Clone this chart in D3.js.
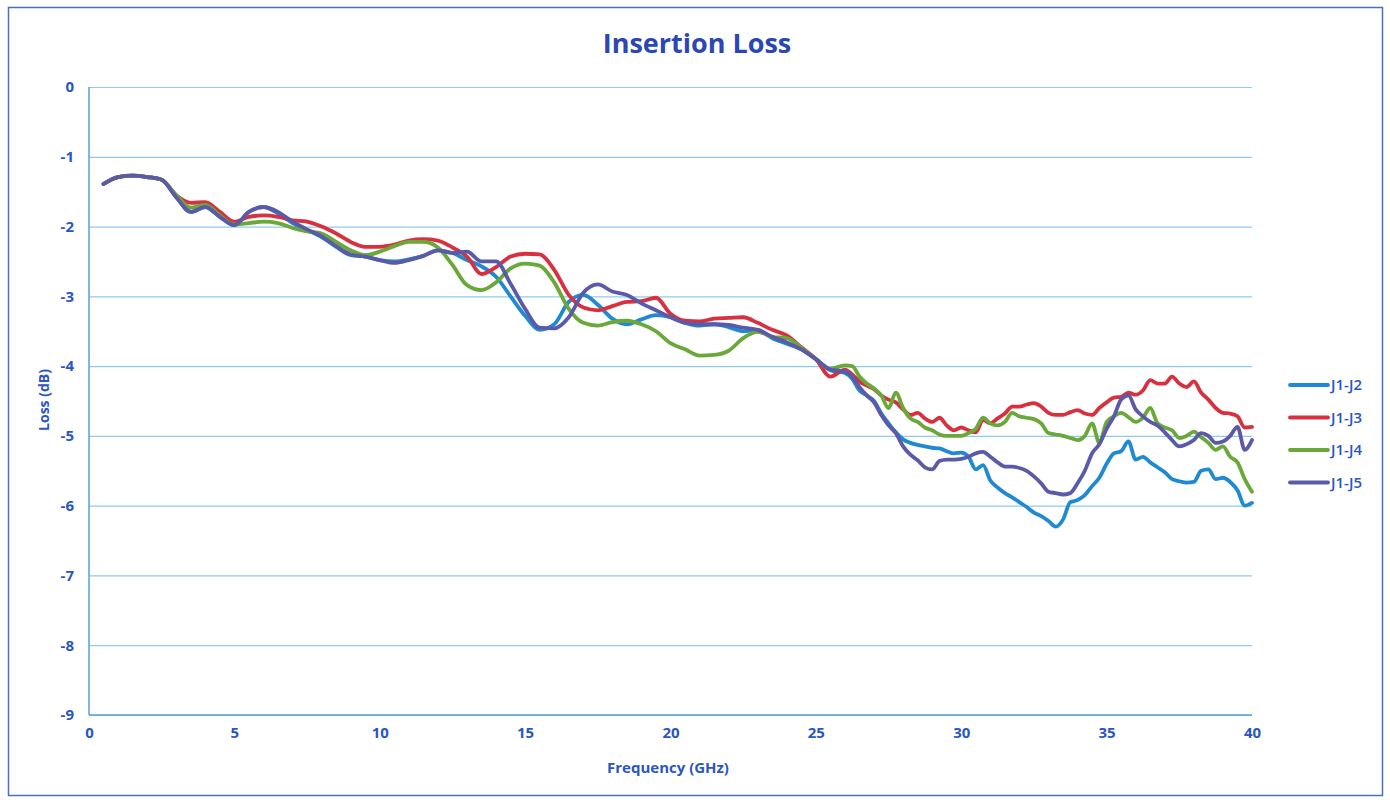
<!DOCTYPE html>
<html>
<head>
<meta charset="utf-8">
<script src="https://d3js.org/d3.v7.min.js"></script>
<style>
  body { margin: 0; background: #fff; }
  text { font-family: "Open Sans", "Noto Sans", sans-serif; }
</style>
</head>
<body>
<div id="chart"></div>
<script>
// frequency points (GHz)
const freq = [0.5,1,1.5,2,2.5,3,3.5,4,4.5,5,5.5,6,6.5,7,7.5,8,8.5,9,9.5,10,
  10.5,11,11.5,12,12.5,13,13.5,14,14.5,15,15.5,16,16.5,17,17.5,18,18.5,19,19.5,20,
  20.5,21,21.5,22,22.5,23,23.5,24,24.5,25,25.5,26,
  26.25,26.5,26.75,27,27.25,27.5,27.75,28,28.25,28.5,28.75,29,29.25,29.5,29.75,30,
  30.25,30.5,30.75,31,31.25,31.5,31.75,32,32.25,32.5,32.75,33,33.25,33.5,33.75,34,
  34.25,34.5,34.75,35,35.25,35.5,35.75,36,36.25,36.5,36.75,37,37.25,37.5,37.75,38,
  38.25,38.5,38.75,39,39.25,39.5,39.75,40];

const j12 = [-1.39,-1.29,-1.27,-1.29,-1.33,-1.58,-1.79,-1.72,-1.86,-1.98,-1.79,-1.72,-1.81,-1.95,-2.05,-2.15,-2.29,-2.41,-2.43,-2.48,
  -2.5,-2.47,-2.42,-2.34,-2.38,-2.48,-2.57,-2.72,-3.0,-3.28,-3.48,-3.4,-3.08,-2.98,-3.12,-3.32,-3.4,-3.33,-3.27,-3.3,
  -3.38,-3.42,-3.4,-3.44,-3.5,-3.48,-3.6,-3.68,-3.76,-3.9,-4.06,-4.1,
  -4.18,-4.35,-4.42,-4.5,-4.68,-4.82,-4.95,-5.05,-5.1,-5.13,-5.15,-5.17,-5.18,-5.22,-5.25,-5.24,
  -5.3,-5.48,-5.42,-5.64,-5.74,-5.82,-5.88,-5.95,-6.02,-6.1,-6.15,-6.22,-6.3,-6.2,-5.95,-5.92,
  -5.85,-5.72,-5.6,-5.4,-5.25,-5.22,-5.08,-5.34,-5.3,-5.38,-5.45,-5.52,-5.62,-5.65,-5.67,-5.66,
  -5.5,-5.48,-5.62,-5.6,-5.66,-5.78,-6.0,-5.96];

const j13 = [-1.39,-1.29,-1.27,-1.29,-1.33,-1.55,-1.66,-1.65,-1.79,-1.93,-1.86,-1.84,-1.86,-1.91,-1.93,-2.0,-2.1,-2.22,-2.29,-2.29,
  -2.26,-2.2,-2.18,-2.2,-2.3,-2.43,-2.68,-2.58,-2.43,-2.39,-2.4,-2.62,-2.98,-3.16,-3.2,-3.14,-3.08,-3.07,-3.02,-3.25,
  -3.35,-3.36,-3.32,-3.31,-3.3,-3.38,-3.48,-3.56,-3.73,-3.9,-4.15,-4.05,
  -4.12,-4.22,-4.28,-4.33,-4.42,-4.48,-4.52,-4.62,-4.7,-4.67,-4.75,-4.8,-4.74,-4.85,-4.92,-4.88,
  -4.92,-4.95,-4.77,-4.82,-4.75,-4.68,-4.58,-4.58,-4.55,-4.53,-4.58,-4.67,-4.7,-4.7,-4.66,-4.63,
  -4.68,-4.7,-4.6,-4.52,-4.45,-4.44,-4.38,-4.41,-4.35,-4.2,-4.25,-4.25,-4.15,-4.25,-4.3,-4.22,
  -4.38,-4.48,-4.6,-4.67,-4.68,-4.72,-4.88,-4.87];

const j14 = [-1.39,-1.29,-1.27,-1.29,-1.33,-1.55,-1.73,-1.69,-1.84,-1.97,-1.95,-1.93,-1.95,-2.02,-2.07,-2.1,-2.22,-2.34,-2.41,-2.36,
  -2.28,-2.22,-2.22,-2.3,-2.55,-2.84,-2.91,-2.8,-2.6,-2.53,-2.56,-2.8,-3.18,-3.38,-3.42,-3.37,-3.35,-3.4,-3.5,-3.67,
  -3.76,-3.85,-3.84,-3.78,-3.6,-3.51,-3.58,-3.6,-3.74,-3.9,-4.04,-3.99,
  -4.0,-4.15,-4.25,-4.32,-4.42,-4.6,-4.38,-4.6,-4.75,-4.8,-4.88,-4.92,-4.98,-5.0,-5.0,-5.0,
  -4.96,-4.9,-4.74,-4.82,-4.85,-4.8,-4.67,-4.72,-4.74,-4.76,-4.82,-4.96,-4.98,-5.0,-5.03,-5.06,
  -5.0,-4.82,-5.1,-4.8,-4.72,-4.67,-4.73,-4.8,-4.74,-4.6,-4.82,-4.88,-4.92,-5.03,-5.0,-4.94,
  -5.02,-5.1,-5.2,-5.15,-5.3,-5.38,-5.62,-5.8];

const j15 = [-1.39,-1.29,-1.27,-1.29,-1.33,-1.58,-1.79,-1.72,-1.86,-1.98,-1.79,-1.72,-1.79,-1.93,-2.04,-2.14,-2.28,-2.4,-2.43,-2.48,
  -2.52,-2.48,-2.42,-2.34,-2.38,-2.36,-2.5,-2.5,-2.82,-3.18,-3.45,-3.46,-3.3,-2.95,-2.83,-2.93,-2.98,-3.1,-3.2,-3.3,
  -3.38,-3.4,-3.4,-3.41,-3.45,-3.48,-3.58,-3.66,-3.76,-3.9,-4.05,-4.08,
  -4.15,-4.3,-4.42,-4.52,-4.7,-4.85,-4.96,-5.15,-5.27,-5.35,-5.45,-5.48,-5.36,-5.34,-5.34,-5.33,
  -5.3,-5.25,-5.23,-5.3,-5.38,-5.44,-5.44,-5.46,-5.5,-5.58,-5.68,-5.8,-5.82,-5.84,-5.82,-5.68,
  -5.5,-5.25,-5.12,-4.9,-4.72,-4.48,-4.42,-4.62,-4.72,-4.8,-4.85,-4.95,-5.06,-5.15,-5.12,-5.06,
  -4.96,-5.0,-5.1,-5.08,-5.0,-4.87,-5.2,-5.06];

const seriesNames = ["J1-J2", "J1-J3", "J1-J4", "J1-J5"];
const seriesValues = [j12, j13, j14, j15];
const seriesColors = ["#1f8ad2", "#d7303f", "#6aa83a", "#5b5aa8"];

const xTicks = [0, 5, 10, 15, 20, 25, 30, 35, 40];
const yTicks = [0, -1, -2, -3, -4, -5, -6, -7, -8, -9];

const W = 1390, H = 800;
const margin = {top: 87, right: 138, bottom: 85, left: 89};
const width = W - margin.left - margin.right,
      height = H - margin.top - margin.bottom;

const svg = d3.select("#chart")
  .append("svg")
    .attr("width", W)
    .attr("height", H);

// outer frame
svg.append("rect")
  .attr("x", 8.5).attr("y", 7.5)
  .attr("width", 1374).attr("height", 788)
  .attr("fill", "none")
  .attr("stroke", "#4a6fc4")
  .attr("stroke-width", 1.5);

const g = svg.append("g")
  .attr("transform", `translate(${margin.left},${margin.top})`);

const x = d3.scaleLinear().domain([0, 40]).range([0, width]);
const y = d3.scaleLinear().domain([-9, 0]).range([height, 0]);

// gridlines
g.append("g")
  .call(d3.axisLeft(y).tickValues(yTicks).tickSize(-width).tickFormat(""))
  .call(s => s.select(".domain").remove())
  .call(s => s.selectAll("line").attr("stroke", "#8fcbea").attr("stroke-width", 1.2));

// axis lines
g.append("line").attr("x1", 0).attr("x2", 0).attr("y1", 0).attr("y2", height)
  .attr("stroke", "#5b9fd6").attr("stroke-width", 1.5);
g.append("line").attr("x1", 0).attr("x2", width).attr("y1", height).attr("y2", height)
  .attr("stroke", "#5b9fd6").attr("stroke-width", 1.5);

// tick labels (plain hyphen minus like the original)
const yAxis = g.append("g")
  .call(d3.axisLeft(y).tickValues(yTicks).tickSize(0).tickPadding(15).tickFormat(d => String(d)));
yAxis.select(".domain").remove();
yAxis.selectAll("text")
  .attr("fill", "#2b56c0").style("font-size", "15px").style("font-weight", "bold");

const xAxis = g.append("g")
  .attr("transform", `translate(0,${height})`)
  .call(d3.axisBottom(x).tickValues(xTicks).tickSize(0).tickPadding(12).tickFormat(d => String(d)));
xAxis.select(".domain").remove();
xAxis.selectAll("text")
  .attr("fill", "#2b56c0").style("font-size", "15px").style("font-weight", "bold");

// lines
const line = d3.line()
  .x((d, i) => x(freq[i]))
  .y(d => y(d))
  .curve(d3.curveMonotoneX);

g.selectAll(".series")
  .data(seriesValues)
  .join("path")
    .attr("class", "series")
    .attr("d", d => line(d))
    .attr("fill", "none")
    .attr("stroke", (d, i) => seriesColors[i])
    .attr("stroke-width", 3.8)
    .attr("stroke-linejoin", "round")
    .attr("stroke-linecap", "round");

// title
svg.append("text")
  .attr("x", 697).attr("y", 53)
  .attr("text-anchor", "middle")
  .attr("fill", "#2a48b4")
  .style("font-size", "27px").style("font-weight", "bold")
  .text("Insertion Loss");

// axis titles
svg.append("text")
  .attr("x", 668).attr("y", 773)
  .attr("text-anchor", "middle")
  .attr("fill", "#2b56c0")
  .style("font-size", "15px").style("font-weight", "bold")
  .text("Frequency (GHz)");

svg.append("text")
  .attr("transform", "translate(49,400) rotate(-90)")
  .attr("text-anchor", "middle")
  .attr("fill", "#2b56c0")
  .style("font-size", "14px").style("font-weight", "bold")
  .text("Loss (dB)");

// legend
const legend = svg.append("g").attr("transform", "translate(1290,385)");
const item = legend.selectAll("g")
  .data(seriesNames)
  .join("g")
    .attr("transform", (d, i) => `translate(0,${i * 32.5})`);
item.append("line")
  .attr("x1", 0).attr("x2", 38)
  .attr("stroke", (d, i) => seriesColors[i])
  .attr("stroke-width", 3.8).attr("stroke-linecap", "round");
item.append("text")
  .attr("x", 41).attr("dy", "0.35em")
  .attr("fill", "#2b56c0")
  .style("font-size", "15px").style("font-weight", "600")
  .text(d => d);
</script>
</body>
</html>
